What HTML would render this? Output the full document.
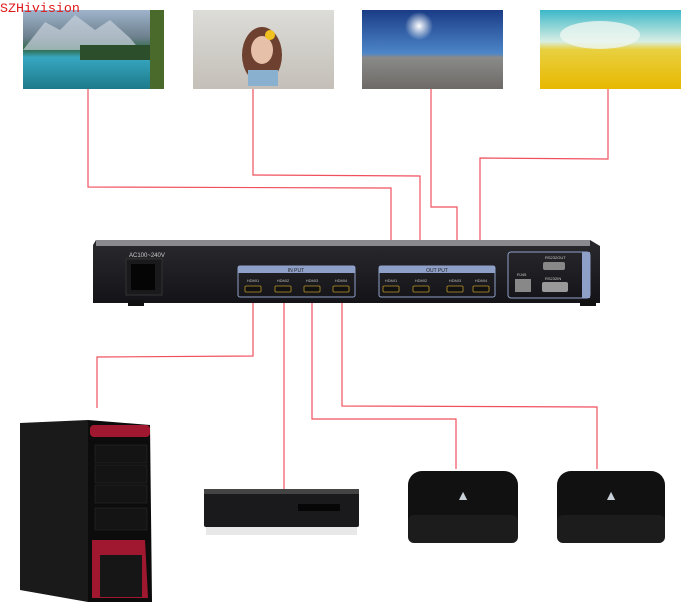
<!DOCTYPE html>
<html><head><meta charset="utf-8"><style>
html,body{margin:0;padding:0;background:#fff;width:697px;height:614px;overflow:hidden}
svg{display:block}
</style></head><body>
<svg width="697" height="614" viewBox="0 0 697 614" xmlns="http://www.w3.org/2000/svg" font-family="Liberation Sans, sans-serif">
<defs>
<linearGradient id="p1" x1="0" y1="0" x2="0" y2="1"><stop offset="0" stop-color="#9fb4cc"/><stop offset="0.35" stop-color="#6c7f8c"/><stop offset="0.5" stop-color="#2f6a4a"/><stop offset="0.6" stop-color="#37a6c0"/><stop offset="1" stop-color="#1d7a8a"/></linearGradient>
<linearGradient id="p2" x1="0" y1="0" x2="0" y2="1"><stop offset="0" stop-color="#dcdcd8"/><stop offset="1" stop-color="#c4bfb8"/></linearGradient>
<linearGradient id="p3" x1="0" y1="0" x2="0" y2="1"><stop offset="0" stop-color="#1a3c86"/><stop offset="0.55" stop-color="#4d86c8"/><stop offset="0.6" stop-color="#8a8a8a"/><stop offset="1" stop-color="#6e6a66"/></linearGradient>
<linearGradient id="p4" x1="0" y1="0" x2="0" y2="1"><stop offset="0" stop-color="#3cb8c8"/><stop offset="0.4" stop-color="#d8eee4"/><stop offset="0.5" stop-color="#e8d040"/><stop offset="1" stop-color="#e8b800"/></linearGradient>
<radialGradient id="sun" cx="0.5" cy="0.5" r="0.5"><stop offset="0" stop-color="#fff"/><stop offset="1" stop-color="#fff" stop-opacity="0"/></radialGradient>
<linearGradient id="dev" x1="0" y1="0" x2="0" y2="1"><stop offset="0" stop-color="#2a2a2e"/><stop offset="1" stop-color="#141418"/></linearGradient>
</defs>

<rect x="23" y="10" width="141" height="79" fill="url(#p1)"/>
<polygon points="23,50 45,22 60,30 75,15 95,30 110,20 130,38 140,50 23,50" fill="#c8d2dc" opacity="0.7"/>
<rect x="150" y="10" width="14" height="79" fill="#4a6a2c"/>
<rect x="80" y="45" width="70" height="15" fill="#2d4e2a"/>
<rect x="193" y="10" width="141" height="79" fill="url(#p2)"/>
<ellipse cx="262" cy="55" rx="20" ry="28" fill="#6e4030"/>
<ellipse cx="262" cy="50" rx="11" ry="14" fill="#e6c0a8"/>
<rect x="248" y="70" width="30" height="16" fill="#8ab0d0"/>
<circle cx="270" cy="35" r="5" fill="#f0c020"/>
<rect x="362" y="10" width="141" height="79" fill="url(#p3)"/>
<circle cx="419" cy="26" r="14" fill="url(#sun)"/>
<rect x="540" y="10" width="141" height="79" fill="url(#p4)"/>
<ellipse cx="600" cy="35" rx="40" ry="14" fill="#eef6f0" opacity="0.8"/>
<text x="0" y="12" font-family="Liberation Mono, monospace" font-size="13.3" fill="#e01818">SZHivision</text>

<g fill="none" stroke="#f0505e" stroke-width="1.2">
<polyline points="88,89 88,187 391,188 391,290"/>
<polyline points="253,89 253,175 420,176 420,290"/>
<polyline points="431,89 431,207 457,207 457,290"/>
<polyline points="608,89 608,159 480,158 480,290"/>
<polyline points="253,292 253,356 97,357 97,408"/>
<polyline points="284,292 284,490"/>
<polyline points="312,292 312,419 456,419 456,469"/>
<polyline points="342,292 342,406 597,407 597,469"/>
</g>

<polygon points="96,240 590,240 600,246 600,303 93,303 93,245" fill="url(#dev)"/>
<rect x="96" y="240" width="494" height="6" fill="#8a8a8e"/>
<rect x="128" y="300" width="16" height="6" fill="#111"/>
<rect x="580" y="300" width="16" height="6" fill="#111"/>
<text x="129" y="257" font-size="6" fill="#ccc">AC100~240V</text>
<rect x="126" y="259" width="36" height="36" fill="#1a1a1c" stroke="#333"/>
<rect x="131" y="264" width="24" height="26" fill="#050505"/>
<rect x="238" y="266" width="117" height="31" rx="2" fill="none" stroke="#8fa0c8"/>
<rect x="238" y="266" width="117" height="7" fill="#8fa0c8"/>
<text x="296" y="272" font-size="5" fill="#222" text-anchor="middle">IN PUT</text>
<rect x="379" y="266" width="116" height="31" rx="2" fill="none" stroke="#8fa0c8"/>
<rect x="379" y="266" width="116" height="7" fill="#8fa0c8"/>
<text x="437" y="272" font-size="5" fill="#222" text-anchor="middle">OUT PUT</text>
<g font-size="4" fill="#bbb" text-anchor="middle">
<text x="253" y="282">HDMI1</text><text x="283" y="282">HDMI2</text><text x="312" y="282">HDMI3</text><text x="341" y="282">HDMI4</text>
<text x="391" y="282">HDMI1</text><text x="421" y="282">HDMI2</text><text x="455" y="282">HDMI3</text><text x="481" y="282">HDMI4</text>
</g>
<g fill="#111" stroke="#b8942a" stroke-width="0.8">
<rect x="245" y="286" width="16" height="6" rx="1"/><rect x="275" y="286" width="16" height="6" rx="1"/><rect x="304" y="286" width="16" height="6" rx="1"/><rect x="333" y="286" width="16" height="6" rx="1"/>
<rect x="383" y="286" width="16" height="6" rx="1"/><rect x="413" y="286" width="16" height="6" rx="1"/><rect x="447" y="286" width="16" height="6" rx="1"/><rect x="473" y="286" width="16" height="6" rx="1"/>
</g>
<rect x="508" y="252" width="82" height="46" rx="3" fill="none" stroke="#8fa0c8"/>
<rect x="582" y="252" width="8" height="46" fill="#8fa0c8"/>
<rect x="515" y="279" width="16" height="13" fill="#888"/>
<text x="517" y="276" font-size="4" fill="#ccc">RJ45</text>
<rect x="543" y="262" width="22" height="8" rx="2" fill="#888"/>
<rect x="542" y="282" width="26" height="10" rx="2" fill="#999"/>
<text x="545" y="259" font-size="4" fill="#ccc">RS232OUT</text>
<text x="545" y="280" font-size="4" fill="#ccc">RS232IN</text>

<polygon points="20,423 88,420 88,602 20,590" fill="#1a1a1a"/>
<polygon points="88,420 150,425 152,602 88,602" fill="#0c0c0c"/>
<rect x="90" y="425" width="60" height="12" rx="4" fill="#a01830"/>
<polygon points="92,540 145,540 148,598 92,598" fill="#a01830"/>
<rect x="100" y="555" width="42" height="42" fill="#161616"/>
<rect x="95" y="445" width="52" height="18" fill="#141414" stroke="#2a2a2a" stroke-width="0.5"/>
<rect x="95" y="465" width="52" height="18" fill="#141414" stroke="#2a2a2a" stroke-width="0.5"/>
<rect x="95" y="485" width="52" height="18" fill="#141414" stroke="#2a2a2a" stroke-width="0.5"/>
<rect x="95" y="508" width="52" height="22" fill="#141414" stroke="#2a2a2a" stroke-width="0.5"/>

<rect x="204" y="489" width="155" height="38" rx="2" fill="#1a1a1c"/>
<rect x="204" y="489" width="155" height="5" fill="#444"/>
<rect x="298" y="504" width="42" height="7" fill="#060606"/>
<rect x="206" y="527" width="151" height="8" fill="#e8e8e8"/>

<rect x="408" y="471" width="110" height="72" rx="14" fill="#111"/>
<rect x="408" y="515" width="110" height="28" rx="6" fill="#1c1c1c"/>
<text x="463" y="500" font-size="14" fill="#c8d0d8" text-anchor="middle">▲</text>
<rect x="557" y="471" width="108" height="72" rx="14" fill="#111"/>
<rect x="557" y="515" width="108" height="28" rx="6" fill="#1c1c1c"/>
<text x="611" y="500" font-size="14" fill="#c8d0d8" text-anchor="middle">▲</text>
</svg>
</body></html>
